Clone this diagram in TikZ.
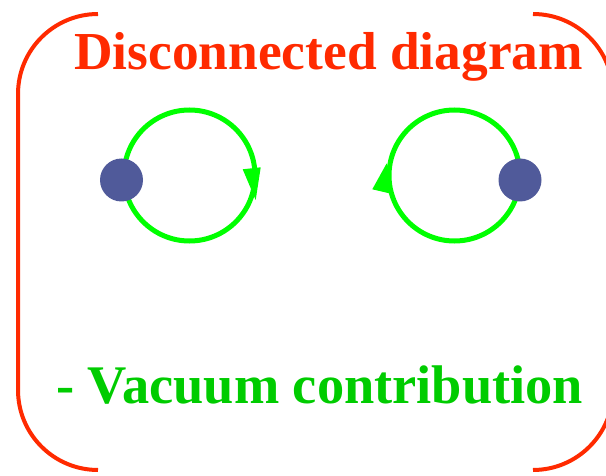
\documentclass[tikz,border=0pt]{standalone}
\usepackage{fontspec}
\setmainfont{Liberation Serif}
\definecolor{bred}{HTML}{FF2A00}
\definecolor{lgreen}{HTML}{00FF00}
\definecolor{tgreen}{HTML}{00CC00}
\definecolor{dotblue}{HTML}{505A9A}
\tikzset{
  bracket/.style={draw=bred, line width=4pt, rounded corners=80pt},
  loop/.style={draw=lgreen, line width=5pt},
  tip/.style={fill=lgreen},
  vertex/.style={circle, fill=dotblue, minimum size=43pt, inner sep=0pt},
  bigtext/.style={font=\bfseries\fontsize{54}{60}\selectfont, anchor=base west, inner sep=0pt}
}
\begin{document}
\begin{tikzpicture}[x=1pt,y=-1pt]
\useasboundingbox (0,0) rectangle (606,476);
\begin{scope}
\clip (0,0) rectangle (606,476);
\draw[bracket] (98,14) -- (18,14) -- (18,470) -- (98,470);
\draw[bracket] (533,14) -- (613,14) -- (613,470) -- (533,470);
\end{scope}
\node[bigtext, text=bred, font=\bfseries\fontsize{53.4}{60}\selectfont] (title) at (74,70) {Disconnected diagram};
\node[bigtext, text=tgreen, font=\bfseries\fontsize{54.4}{60}\selectfont] (vac) at (56,403) {- Vacuum contribution};
\draw[loop] (189.5,175.5) circle (65.5pt);
\draw[loop] (454.5,175.5) circle (65.5pt);
\fill[tip] (242.7,169.3) -- (260.7,167.3) -- (255.7,200) -- cycle;
\fill[tip] (372.3,189.3) -- (389.3,193.3) -- (386.7,163.3) -- cycle;
\node[vertex] (v1) at (121.5,180) {};
\node[vertex] (v2) at (520,180) {};
\end{tikzpicture}
\end{document}
